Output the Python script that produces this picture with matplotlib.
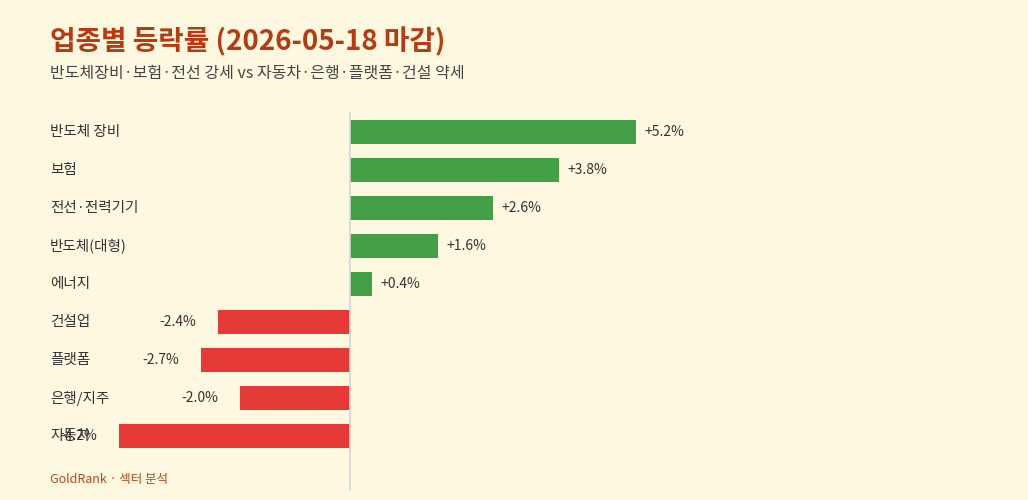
import matplotlib
matplotlib.use("Agg")
import matplotlib.pyplot as plt

plt.rcParams['font.family'] = ['Noto Sans CJK KR', 'DejaVu Sans']

categories = ["반도체 장비", "보험", "전선·전력기기", "반도체(대형)", "에너지", "건설업", "플랫폼", "은행/지주", "자동차"]
values = [5.2, 3.8, 2.6, 1.6, 0.4, -2.4, -2.7, -2.0, -4.2]

W, H = 1028, 500
bg = "#FFF8E1"
fig = plt.figure(figsize=(W/100, H/100), dpi=100, facecolor=bg)
ax = fig.add_axes([50/W, 1-490/H, 950/W, 378/H], facecolor=bg)
ppu = 55.0
ax.set_xlim((50-350)/ppu, (1000-350)/ppu)
n = len(categories)
ys = list(range(n))
ax.set_ylim(n - 1 + (490-436)/38, -(132-112)/38)
colors = ["#43A047" if v >= 0 else "#E53935" for v in values]
ax.barh(ys, values, height=24/38, color=colors)
ax.axvline(0, color="#d6d6d6", lw=1.2)
for y, c, v in zip(ys, categories, values):
    ax.text(0, y, c, transform=ax.get_yaxis_transform(), ha="left", va="center", fontsize=10.5, color="#333333")
    lbl = f"{v:+.1f}%"
    if v >= 0:
        ax.text(v + 8/ppu, y, lbl, ha="left", va="center", fontsize=10, color="#333333")
    else:
        ax.text(v - 22/ppu, y, lbl, ha="right", va="center", fontsize=10, color="#333333")
for s in ax.spines.values():
    s.set_visible(False)
ax.set_xticks([]); ax.set_yticks([])

fig.text(50/W, 1-42/H, "업종별 등락률 (2026-05-18 마감)", fontsize=20, fontweight="bold", color="#B83A10", va="center")
fig.text(50/W, 1-73/H, "반도체장비·보험·전선 강세 vs 자동차·은행·플랫폼·건설 약세", fontsize=11.5, color="#444444", va="center")
fig.text(50/W, 1-480/H, "GoldRank · 섹터 분석", fontsize=9, color="#B84A20", va="center")
fig.savefig("out.png", dpi=100, facecolor=bg)
